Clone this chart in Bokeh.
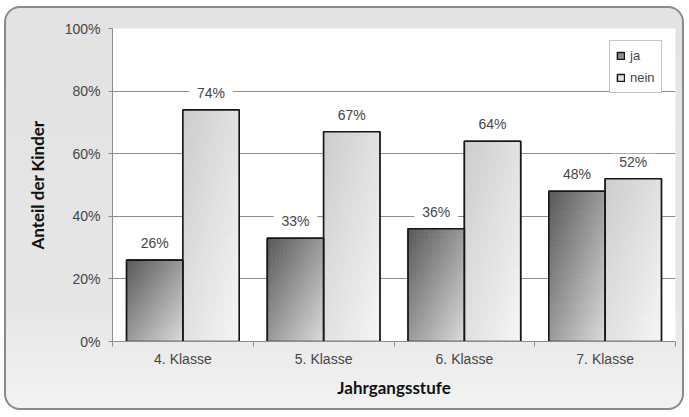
import numpy as np
from bokeh.plotting import figure
from bokeh.models import (ColumnDataSource, Range1d, FixedTicker, PrintfTickFormatter,
                          LabelSet, Legend, LegendItem)
from bokeh.core.properties import value
from bokeh.embed import file_html
from bokeh.resources import INLINE

# --- data -------------------------------------------------------------
categories = ["4. Klasse", "5. Klasse", "6. Klasse", "7. Klasse"]
ja = [26, 33, 36, 48]
nein = [74, 67, 64, 52]
series = ["ja", "nein"]
y_ticks = [0, 20, 40, 60, 80, 100]

# --- styling ----------------------------------------------------------
TICK_FONT = "Liberation Sans"
TITLE_FONT = "Lato"
TEXT_COLOR = "#454545"
GRID_COLOR = "#8c8c8c"
BAR_W = 0.4
PAD = "\u00a0\u00a0"  # non-breaking spaces widen the white box behind value labels

idx = np.arange(len(categories)) + 0.5
x_ja = idx - BAR_W / 2
x_nein = idx + BAR_W / 2


def hex_to_rgb(h):
    h = h.lstrip("#")
    return np.array([int(h[i:i + 2], 16) for i in (0, 2, 4)], dtype=float)


def mix(c0, c1, t):
    c = hex_to_rgb(c0) * (1 - t) + hex_to_rgb(c1) * t
    return "#%02x%02x%02x" % tuple(int(round(v)) for v in c)


def gradient_cells(centers, values, width, c0, c1, nx=14, ny=24):
    """Split each bar into small cells shaded along the top-left -> bottom-right diagonal."""
    d = dict(left=[], right=[], bottom=[], top=[], color=[])
    for xc, v in zip(centers, values):
        x0 = xc - width / 2
        for i in range(nx):
            for j in range(ny):
                u = (i + 0.5) / nx
                w = (j + 0.5) / ny
                d["left"].append(x0 + width * i / nx)
                d["right"].append(x0 + width * (i + 1) / nx)
                d["top"].append(v * (1 - j / ny))
                d["bottom"].append(v * (1 - (j + 1) / ny))
                d["color"].append(mix(c0, c1, (u + w) / 2))
    return ColumnDataSource(d)


p = figure(width=680, height=404, output_backend="svg", toolbar_location=None,
           x_range=Range1d(0, len(categories)), y_range=Range1d(0, 100),
           min_border_left=106, min_border_right=11, min_border_top=20, min_border_bottom=71)
p.styles = {
    "margin-left": "4px", "margin-top": "6px",
    "border": "2px solid #8a8a8a", "border-radius": "16px", "overflow": "hidden",
    "background": "linear-gradient(#e3e3e3, #e6e6e6 75%, #f3f3f3)",
}
p.border_fill_alpha = 0
p.background_fill_color = "white"
p.outline_line_color = None

# bars: base fill (used for legend), gradient shading, outline
src = ColumnDataSource(dict(x_ja=x_ja, x_nein=x_nein, ja=ja, nein=nein,
                            ja_lbl=[PAD + "%d%%" % v + PAD for v in ja],
                            nein_lbl=[PAD + "%d%%" % v + PAD for v in nein]))
r_ja = p.vbar(x="x_ja", top="ja", width=BAR_W, source=src, fill_color="#8f8f8f",
              line_color="#161616", line_width=1.5)
r_nein = p.vbar(x="x_nein", top="nein", width=BAR_W, source=src, fill_color="#e2e2e2",
                line_color="#161616", line_width=1.5)

for xs, vals, c0, c1 in [(x_ja, ja, "#585858", "#dcdcdc"),
                          (x_nein, nein, "#cccccc", "#f6f6f6")]:
    cs = gradient_cells(xs, vals, BAR_W, c0, c1)
    p.quad(left="left", right="right", bottom="bottom", top="top", source=cs,
           fill_color="color", line_color="color", line_width=0.6)

for col in ["x_ja", "x_nein"]:
    p.vbar(x=col, top=col.replace("x_", ""), width=BAR_W, source=src,
           fill_alpha=0, line_color="#161616", line_width=1.6)

# value labels
for col in ["ja", "nein"]:
    p.add_layout(LabelSet(x="x_" + col, y=col, text=col + "_lbl", source=src,
                          text_align="center", text_baseline="bottom", y_offset=9,
                          text_font=value(TICK_FONT), text_font_size=value("14px"),
                          text_color=TEXT_COLOR, background_fill_color="white"))

# axes
p.yaxis.ticker = FixedTicker(ticks=y_ticks)
p.yaxis.formatter = PrintfTickFormatter(format="%d%%")
p.yaxis.axis_label = "Anteil der Kinder"
p.xaxis.ticker = FixedTicker(ticks=list(idx), minor_ticks=list(range(len(categories) + 1)))
p.xaxis.major_label_overrides = {float(v): c for v, c in zip(idx, categories)}
p.xaxis.axis_label = "Jahrgangsstufe"

for ax in p.axis:
    ax.axis_line_color = GRID_COLOR
    ax.major_label_text_font = TICK_FONT
    ax.major_label_text_font_size = "14px"
    ax.major_label_text_color = TEXT_COLOR
    ax.axis_label_text_font = TITLE_FONT
    ax.axis_label_text_font_style = "bold"
    ax.axis_label_text_font_size = "17px"
    ax.axis_label_text_color = "#111111"
    ax.major_tick_line_color = GRID_COLOR
    ax.minor_tick_line_color = GRID_COLOR

p.yaxis.major_tick_out = 4
p.yaxis.major_tick_in = 0
p.yaxis.minor_tick_line_color = None
p.yaxis.major_label_standoff = 8
p.yaxis.axis_label_standoff = 14

p.xaxis.major_tick_out = 0
p.xaxis.major_tick_in = 0
p.xaxis.minor_tick_out = 5
p.xaxis.minor_tick_in = 0
p.xaxis.major_label_standoff = 4
p.xaxis.axis_label_standoff = 7

p.xgrid.grid_line_color = None
p.ygrid.grid_line_color = GRID_COLOR

legend = Legend(items=[LegendItem(label=series[0], renderers=[r_ja]),
                       LegendItem(label=series[1], renderers=[r_nein])],
                location=(497, 248), margin=0, padding=6, spacing=5,
                label_height=17, glyph_width=9, glyph_height=9, label_standoff=5,
                label_text_font=TICK_FONT, label_text_font_size="13px",
                label_text_color=TEXT_COLOR, border_line_color=GRID_COLOR,
                background_fill_color="white", background_fill_alpha=1)
p.add_layout(legend)

open("out.html", "w").write(file_html(p, INLINE))
